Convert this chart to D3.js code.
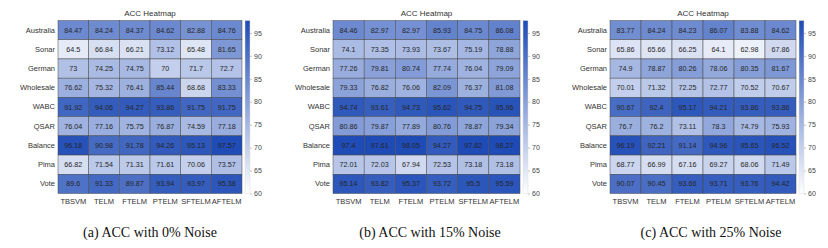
<!DOCTYPE html>
<html>
<head>
<meta charset="utf-8">
<script src="https://cdn.jsdelivr.net/npm/d3@7"></script>
<style>
  body { margin: 0; background: #fff; }
  svg { display: block; }
</style>
</head>
<body>
<script>
const datasets = ["Australia", "Sonar", "German", "Wholesale", "WABC", "QSAR", "Balance", "Pima", "Vote"];
const methods = ["TBSVM", "TELM", "FTELM", "PTELM", "SFTELM", "AFTELM"];

// ACC, one row per dataset, one column per method
const acc0 = [
  [84.47, 84.24, 84.37, 84.62, 82.88, 84.76],
  [64.5, 66.84, 66.21, 73.12, 65.48, 81.65],
  [73, 74.25, 74.75, 70, 71.7, 72.7],
  [76.62, 75.32, 76.41, 85.44, 68.68, 83.33],
  [91.92, 94.06, 94.27, 93.86, 91.75, 91.75],
  [76.04, 77.16, 75.75, 76.87, 74.59, 77.18],
  [96.18, 90.98, 91.78, 94.26, 95.13, 97.57],
  [66.82, 71.54, 71.31, 71.61, 70.06, 73.57],
  [89.6, 91.33, 89.87, 93.94, 93.97, 95.38]
];
const acc15 = [
  [84.46, 82.97, 82.97, 85.93, 84.75, 86.08],
  [74.1, 73.35, 73.93, 73.67, 75.19, 78.88],
  [77.26, 79.81, 80.74, 77.74, 76.04, 79.09],
  [79.33, 76.82, 76.06, 82.09, 76.37, 81.08],
  [94.74, 93.61, 94.73, 95.62, 94.75, 95.96],
  [80.86, 79.87, 77.89, 80.76, 78.87, 79.34],
  [97.4, 97.61, 98.05, 94.27, 97.82, 98.27],
  [72.01, 72.03, 67.94, 72.53, 73.18, 73.18],
  [95.14, 93.82, 95.37, 93.72, 95.5, 95.59]
];
const acc25 = [
  [83.77, 84.24, 84.23, 86.07, 83.88, 84.62],
  [65.86, 65.66, 66.25, 64.1, 62.98, 67.86],
  [74.9, 78.87, 80.26, 78.06, 80.35, 81.67],
  [70.01, 71.32, 72.25, 72.77, 70.52, 70.67],
  [90.67, 92.4, 95.17, 94.21, 93.86, 93.86],
  [76.7, 76.2, 73.11, 78.3, 74.79, 75.93],
  [96.19, 92.21, 91.14, 94.96, 95.65, 96.52],
  [68.77, 66.99, 67.16, 69.27, 68.06, 71.49],
  [90.07, 90.45, 93.66, 93.71, 93.76, 94.42]
];
const captions = ["(a) ACC with 0% Noise", "(b) ACC with 15% Noise", "(c) ACC with 25% Noise"];
const colorTicks = [60, 65, 70, 75, 80, 85, 90, 95];
const colorDomain = [60, 97.7];

const W = 828, H = 248;
const panels = [
  {data: acc0, left: 58, width: 184},
  {data: acc15, left: 333, width: 187},
  {data: acc25, left: 610, width: 186}
];
const gridTop = 20.5, gridBottom = 193.5;

const color = d3.scaleLinear().domain(colorDomain)
  .range(["#ffffff", "#1e4bb6"]).interpolate(d3.interpolateRgb).clamp(true);

const svg = d3.select("body").append("svg").attr("width", W).attr("height", H)
  .style("font-family", "'Liberation Sans', Arial, sans-serif");

panels.forEach((p, pi) => {
  const g = svg.append("g");
  const x = d3.scaleBand().domain(methods).range([p.left, p.left + p.width]);
  const y = d3.scaleBand().domain(datasets).range([gridTop, gridBottom]);

  const cells = [];
  p.data.forEach((row, i) => row.forEach((v, j) => cells.push({d: datasets[i], m: methods[j], v})));

  g.selectAll("rect.cell").data(cells).join("rect")
    .attr("class", "cell")
    .attr("x", c => x(c.m)).attr("y", c => y(c.d))
    .attr("width", x.bandwidth()).attr("height", y.bandwidth())
    .attr("fill", c => color(c.v))
    .attr("stroke", "#4a4a4a").attr("stroke-width", 0.5);

  g.selectAll("text.val").data(cells).join("text")
    .attr("class", "val")
    .attr("x", c => x(c.m) + x.bandwidth() / 2)
    .attr("y", c => y(c.d) + y.bandwidth() / 2)
    .attr("dy", "0.35em").attr("text-anchor", "middle")
    .attr("font-size", 7.2).attr("fill", "#262626")
    .text(c => c.v);

  // axes
  const ax = g.append("g").attr("transform", `translate(0,${gridBottom})`)
    .call(d3.axisBottom(x).tickSize(0).tickPadding(5));
  const ay = g.append("g").attr("transform", `translate(${p.left},0)`)
    .call(d3.axisLeft(y).tickSize(0).tickPadding(3));
  [ax, ay].forEach(a => {
    a.select(".domain").remove();
    a.selectAll("text").attr("font-size", 7.5).attr("fill", "#333")
      .style("font-family", "'Liberation Sans', Arial, sans-serif");
  });

  g.append("text")
    .attr("x", p.left + p.width / 2).attr("y", gridTop - 5)
    .attr("text-anchor", "middle").attr("font-size", 8).attr("fill", "#333")
    .text("ACC Heatmap");

  // colorbar
  const cbx = p.left + p.width + 3, cbw = 5;
  const cy = d3.scaleLinear().domain(colorDomain).range([gridBottom, gridTop]);
  const gradId = "grad" + pi;
  const grad = svg.append("defs").append("linearGradient").attr("id", gradId)
    .attr("x1", 0).attr("y1", 1).attr("x2", 0).attr("y2", 0);
  d3.range(0, 1.01, 0.1).forEach(t => grad.append("stop")
    .attr("offset", t).attr("stop-color", color(colorDomain[0] + t * (colorDomain[1] - colorDomain[0]))));
  g.append("rect").attr("x", cbx).attr("y", gridTop).attr("width", cbw).attr("height", gridBottom - gridTop)
    .attr("fill", `url(#${gradId})`).attr("stroke", "#ddd").attr("stroke-width", 0.5);
  const cb = g.append("g").attr("transform", `translate(${cbx + cbw},0)`)
    .call(d3.axisRight(cy).tickValues(colorTicks).tickSize(2).tickPadding(2));
  cb.select(".domain").remove();
  cb.selectAll("line").attr("stroke", "#888").attr("stroke-width", 0.5);
  cb.selectAll("text").attr("font-size", 7).attr("fill", "#444")
    .style("font-family", "'Liberation Sans', Arial, sans-serif");

  svg.append("text")
    .attr("x", [150, 430, 711][pi]).attr("y", 237)
    .attr("text-anchor", "middle")
    .style("font-family", "'Liberation Serif', 'Times New Roman', serif")
    .attr("font-size", 14).attr("fill", "#111")
    .text(captions[pi]);
});
</script>
</body>
</html>
